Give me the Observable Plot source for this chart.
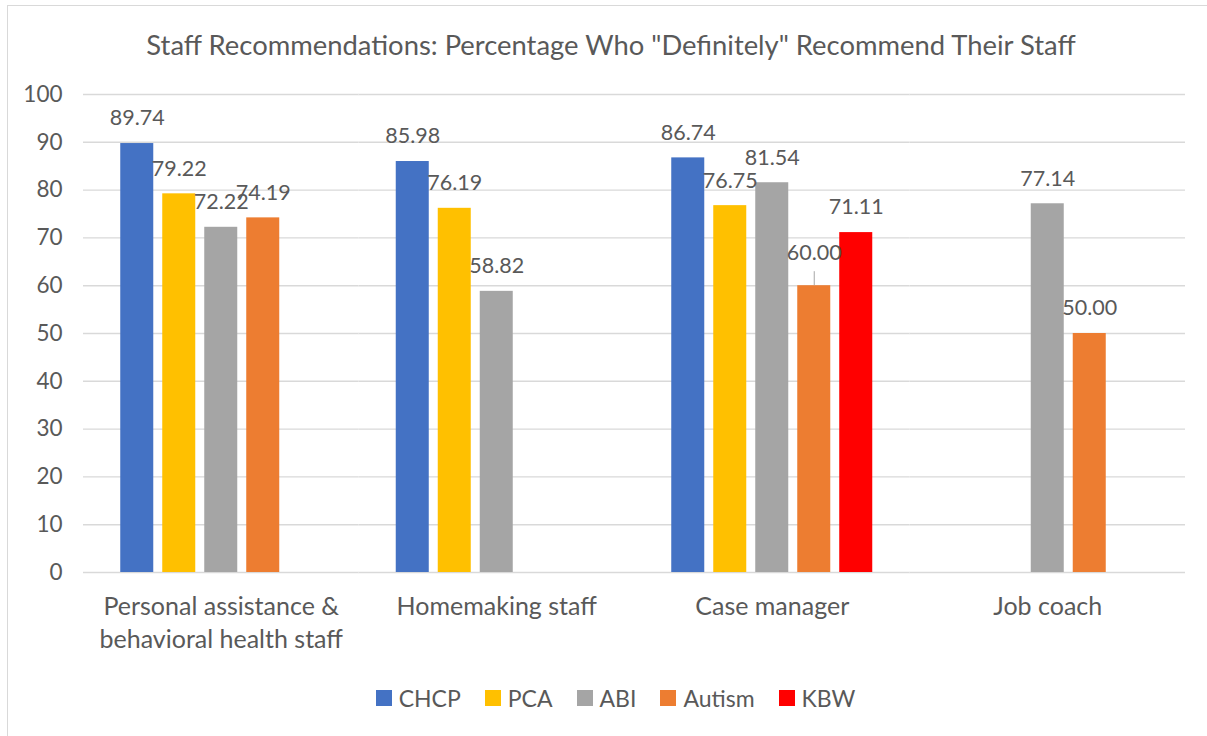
<!DOCTYPE html>
<html><head><meta charset="utf-8">
<script src="https://cdn.jsdelivr.net/npm/d3@7"></script>
<script src="https://cdn.jsdelivr.net/npm/@observablehq/plot@0.6"></script>
<style>
body{margin:0;background:#fff;font-family:Lato,sans-serif;color:#595959}
#wrap{position:relative;width:1207px;height:736px;overflow:hidden;background:#fff}
#frame{position:absolute;left:7px;top:5px;width:1230px;height:770px;border:1.5px solid #d9d9d9;box-sizing:border-box}
#title{position:absolute;top:28px;left:0;width:1222px;text-align:center;font-size:27.4px;white-space:nowrap}
#chart{position:absolute;left:0;top:0}
#legend{position:absolute;top:684px;left:0;width:1231px;display:flex;justify-content:center;font-size:23px;line-height:28px}
#legend .item{display:flex;align-items:center;margin:0 12px}
#legend .sw{width:16px;height:16px;margin-right:7px}
</style></head>
<body>
<div id="wrap">
  <div id="frame"></div>
  <div id="title"></div>
  <div id="chart"></div>
  <div id="legend"></div>
</div>
<script>
const titleText = 'Staff Recommendations: Percentage Who "Definitely" Recommend Their Staff';
const categories = ["Personal assistance & behavioral health staff", "Homemaking staff", "Case manager", "Job coach"];
const categoryLabels = ["Personal assistance &\nbehavioral health staff", "Homemaking staff", "Case manager", "Job coach"];
const series = ["CHCP", "PCA", "ABI", "Autism", "KBW"];
const chcp   = [89.74, 85.98, 86.74, null];
const pca    = [79.22, 76.19, 76.75, null];
const abi    = [72.22, 58.82, 81.54, 77.14];
const autism = [74.19, null, 60.00, 50.00];
const kbw    = [null, null, 71.11, null];
const yTicks = [0, 10, 20, 30, 40, 50, 60, 70, 80, 90, 100];
const colors = ["#4472C4", "#FFC000", "#A5A5A5", "#ED7D31", "#FF0000"];

const seriesValues = [chcp, pca, abi, autism, kbw];
const rows = [];
series.forEach((s, si) => categories.forEach((c, ci) => {
  const v = seriesValues[si][ci];
  if (v != null) rows.push({category: c, series: s, value: v});
}));
const labelOf = new Map(categories.map((c, i) => [c, categoryLabels[i]]));
const isLifted = d => d.category === "Case manager" && d.series === "Autism";
const normalRows = rows.filter(d => !isLifted(d));
const liftedRows = rows.filter(isLifted);

const textColor = "#595959";
const chart = Plot.plot({
  width: 1207, height: 680,
  marginLeft: 83, marginRight: 22, marginTop: 94, marginBottom: 108,
  style: {fontFamily: "Lato, sans-serif", fontSize: "21px", color: textColor, background: "transparent"},
  fx: {domain: categories, padding: 0, round: false, axis: null},
  x: {domain: series, paddingInner: 0.214, paddingOuter: 0.887, round: false, axis: null},
  y: {domain: [0, 100], axis: null},
  color: {domain: series, range: colors},
  marks: [
    Plot.gridY(yTicks, {stroke: "#d9d9d9", strokeOpacity: 1, strokeWidth: 1.4}),
    Plot.axisY(yTicks, {tickSize: 0, tickPadding: 21, fill: textColor, fontSize: 22.5, label: null}),
    Plot.barY(rows, {fx: "category", x: "series", y: "value", fill: "series"}),
    Plot.text(normalRows, {fx: "category", x: "series", y: "value", dy: -25, text: d => d.value.toFixed(2), fill: textColor, fontSize: 21.5}),
    Plot.text(liftedRows, {fx: "category", x: "series", y: "value", dy: -33, text: d => d.value.toFixed(2), fill: textColor, fontSize: 21.5}),
    Plot.ruleX(liftedRows, {fx: "category", x: "series", y1: "value", y2: "value", insetTop: -14, stroke: "#a6a6a6", strokeWidth: 1}),
    Plot.text(categories, {fx: d => d, text: d => labelOf.get(d), frameAnchor: "bottom", lineAnchor: "top", dy: 19, lineHeight: 1.32, fill: textColor, fontSize: 25})
  ]
});
document.getElementById("chart").appendChild(chart);
document.getElementById("title").textContent = titleText;
const legend = document.getElementById("legend");
series.forEach((s, i) => {
  const item = document.createElement("div"); item.className = "item";
  const sw = document.createElement("div"); sw.className = "sw"; sw.style.background = colors[i];
  const t = document.createElement("span"); t.textContent = s;
  item.appendChild(sw); item.appendChild(t); legend.appendChild(item);
});
</script>
</body></html>
